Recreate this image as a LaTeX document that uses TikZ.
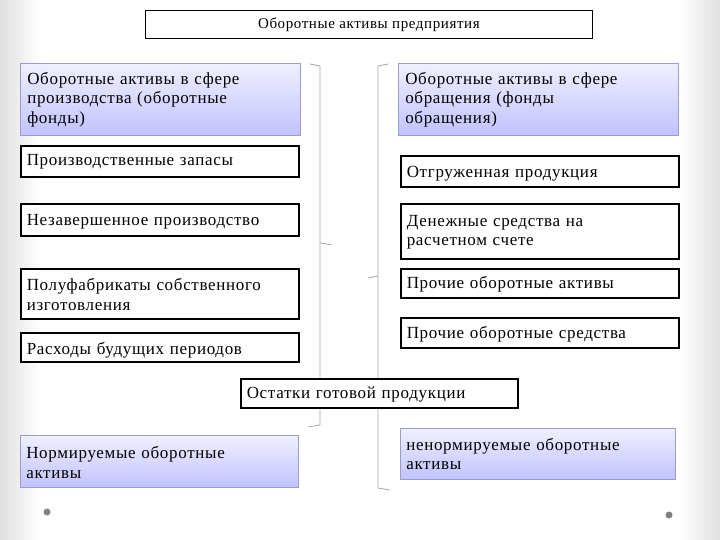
\documentclass[tikz,border=0pt]{standalone}
\usepackage{fontspec}
\setmainfont{Liberation Serif}[LetterSpace=4]
\begin{document}
\begin{tikzpicture}[x=1pt,y=-1pt,
  wb/.style={draw=black,line width=1.6pt,fill=white,anchor=north west,align=left,inner sep=0pt,text width=#1},
  bb/.style={draw=blue!30!gray!60,line width=0.6pt,top color=blue!6,bottom color=blue!24,anchor=north west,align=left,inner sep=0pt,text width=#1},
  br/.style={draw=gray!70,line width=0.8pt},
  font=\fontsize{17}{19.5}\selectfont]
\useasboundingbox (0,0) rectangle (720,540);
\shade[left color=gray!25,right color=white] (0,0) rectangle (40,540);
\shade[left color=white,right color=gray!25] (680,0) rectangle (720,540);
\draw[br] (310,64) -- (320,66) -- (320,425) -- (308,427);
\draw[br] (320,243) -- (332,245);
\draw[br] (388,64) -- (378,66) -- (378,488) -- (390,490);
\draw[br] (378,276) -- (368,278);
\node[draw=black,line width=0.8pt,fill=white,minimum width=447pt,minimum height=28pt,anchor=north west,inner sep=0pt,font=\fontsize{15}{17}\selectfont] (t) at (145,10) {Оборотные активы предприятия};
\node[bb=280pt,minimum height=72pt] (l1) at (20,63) {\hspace*{7pt}\parbox[t]{270pt}{\vspace{0pt}Оборотные активы в сфере\\производства (оборотные\\фонды)}};
\node[bb=280pt,minimum height=72pt] (r1) at (398,63) {\hspace*{7pt}\parbox[t]{270pt}{\vspace{0pt}Оборотные активы в сфере\\обращения (фонды\\обращения)}};
\node[wb=278pt,minimum height=31pt] (l2) at (20,145) {\hspace*{6pt}\parbox[t]{268pt}{\vspace{1pt}Производственные запасы}};
\node[wb=278pt,minimum height=31pt] (r2) at (400,155) {\hspace*{6pt}\parbox[t]{268pt}{\vspace{4pt}Отгруженная продукция}};
\node[wb=278pt,minimum height=32pt] (l3) at (20,203) {\hspace*{6pt}\parbox[t]{268pt}{\vspace{4pt}Незавершенное производство}};
\node[wb=278pt,minimum height=55pt] (r3) at (400,203) {\hspace*{6pt}\parbox[t]{268pt}{\vspace{2pt}Денежные средства на\\расчетном счете}};
\node[wb=278pt,minimum height=50pt] (l4) at (20,268) {\hspace*{6pt}\parbox[t]{268pt}{\vspace{1pt}Полуфабрикаты собственного\\изготовления}};
\node[wb=278pt,minimum height=29pt] (r4) at (400,268) {\hspace*{6pt}\parbox[t]{268pt}{\vspace{2pt}Прочие оборотные активы}};
\node[wb=278pt,minimum height=29pt] (l5) at (20,332) {\hspace*{6pt}\parbox[t]{268pt}{\vspace{5pt}Расходы будущих периодов}};
\node[wb=278pt,minimum height=30pt] (r5) at (400,317) {\hspace*{6pt}\parbox[t]{268pt}{\vspace{2pt}Прочие оборотные средства}};
\node[wb=277pt,minimum height=29pt] (c) at (240,378) {\hspace*{6pt}\parbox[t]{268pt}{\vspace{2pt}Остатки готовой продукции}};
\node[bb=278pt,minimum height=52pt] (l6) at (20,435) {\hspace*{6pt}\parbox[t]{268pt}{\vspace{2pt}Нормируемые оборотные\\активы}};
\node[bb=275pt,minimum height=51pt] (r6) at (400,428) {\hspace*{6pt}\parbox[t]{265pt}{\vspace{0pt}ненормируемые оборотные\\активы}};
\fill[gray] (47,512) circle (3.5pt) (669,515) circle (3.5pt);
\end{tikzpicture}
\end{document}
